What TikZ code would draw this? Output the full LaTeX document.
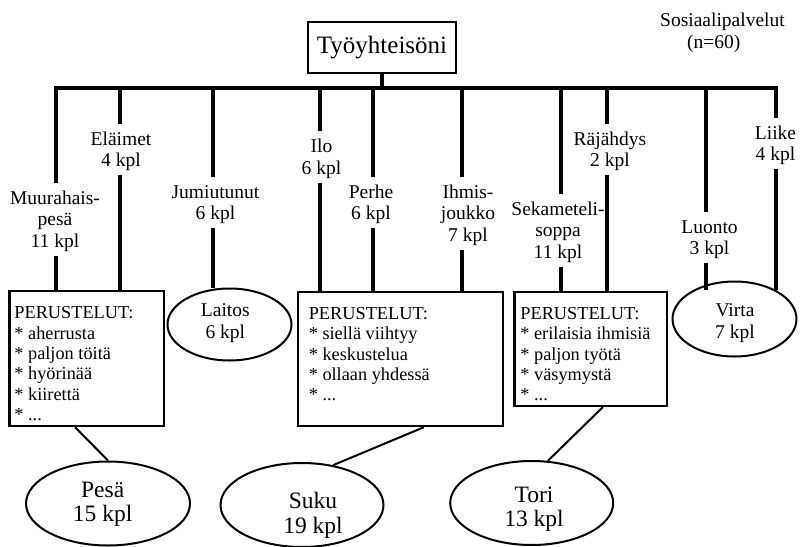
\documentclass[tikz,border=0pt]{standalone}
\usepackage{fontspec}
\setmainfont{Liberation Serif}
\usetikzlibrary{shapes.geometric}
% reasons box: width, height, left indent, lines
\newcommand\perusbox[4]{\parbox[c][#2][t]{#1}{\fontsize{18.3}{20.3}\selectfont\leftskip=#3\relax\rule{0pt}{27.8pt}#4}}
% first-line strut for the branch labels
\newcommand\lst{\rule{0pt}{17pt}}
% line break followed by a bullet asterisk
\newcommand\itm{\\{}* }
\begin{document}
\begin{tikzpicture}[x=1pt,y=-1pt,
  tree/.style={line width=4pt},
  conn/.style={line width=2pt},
  titlebox/.style={draw, line width=2.2pt, inner sep=0pt, minimum width=148pt, minimum height=51pt,
    font=\fontsize{25}{27}\selectfont},
  pbox/.style={draw, line width=2.2pt, inner sep=0pt, anchor=north west},
  ell/.style={ellipse, draw, line width=2pt, inner sep=0pt},
  lab/.style={align=center, inner xsep=1pt, inner ysep=4pt, font=\fontsize{19.5}{21.5}\selectfont},
  etext/.style={align=center, inner sep=0pt, font=\fontsize{19.5}{21.5}\selectfont},
  bigtext/.style={align=center, inner sep=0pt, font=\fontsize{23.5}{24.5}\selectfont}]
\useasboundingbox (0,0) rectangle (800,546);

% heading
\node[titlebox] (top) at (382,47.5) {Työyhteisöni};
\node[align=left, inner sep=0pt, anchor=north west, font=\fontsize{19.5}{22}\selectfont] (group) at (660,12.5)
  {Sosiaalipalvelut\\\hspace*{27pt}(n=60)};

% branch labels
\node[lab] (l1) at (55,219.5) {\lst Muurahais-\\pesä\\11 kpl};
\node[lab] (l2) at (121,149.75) {\lst Eläimet\\4 kpl};
\node[lab] (l3) at (215.5,202.75) {\lst Jumiutunut\\6 kpl};
\node[lab] (l4) at (321.5,157) {\lst Ilo\\6 kpl};
\node[lab] (l5) at (371,202.75) {\lst Perhe\\6 kpl};
\node[lab] (l6) at (468,213.5) {\lst Ihmis-\\joukko\\7 kpl};
\node[lab] (l7) at (558,230.5) {\lst Sekameteli-\\soppa\\11 kpl};
\node[lab] (l8) at (610,149.75) {\lst Räjähdys\\2 kpl};
\node[lab] (l9) at (709.5,237.75) {\lst Luonto\\3 kpl};
\node[lab] (l10) at (775.5,143.75) {\lst Liike\\4 kpl};

% reason boxes
\node[pbox] (box1) at (8.3,290)
  {\perusbox{154.4pt}{135pt}{5pt}{PERUSTELUT:\itm aherrusta\itm paljon töitä\itm hyörinää\itm kiirettä\itm ...}};
\node[pbox] (box2) at (296.7,290.7)
  {\perusbox{205.3pt}{134.3pt}{11pt}{PERUSTELUT:\itm siellä viihtyy\itm keskustelua\itm ollaan yhdessä\itm ...}};
\node[pbox] (box3) at (513.3,290.7)
  {\perusbox{152.7pt}{114.3pt}{6pt}{PERUSTELUT:\itm erilaisia ihmisiä\itm paljon työtä\itm väsymystä\itm ...}};

% small ellipses
\node[ell, minimum width=124pt, minimum height=72pt] (laitos) at (229.5,324.5) {};
\node[etext] (laitost) at (225.3,322.9) {Laitos\\6 kpl};
\node[ell, minimum width=124pt, minimum height=75pt] (virta) at (734.5,319) {};
\node[etext] (virtat) at (735,322.9) {Virta\\7 kpl};

% result ellipses
\node[ell, minimum width=164pt, minimum height=84pt] (pesa) at (108,503.5) {};
\node[bigtext] (pesat) at (102.7,504.3) {Pesä\\15 kpl};
\node[ell, minimum width=163pt, minimum height=84pt] (suku) at (302,505) {};
\node[bigtext] (sukut) at (313,515.5) {Suku\\19 kpl};
\node[ell, minimum width=163pt, minimum height=84pt] (tori) at (531.7,503) {};
\node[bigtext] (torit) at (534,509.2) {Tori\\13 kpl};

% tree
\coordinate (b1) at (56,87.5);
\coordinate (b2) at (119.5,87.5);
\coordinate (b3) at (213.3,87.5);
\coordinate (b4) at (320,87.5);
\coordinate (b5) at (372.7,87.5);
\coordinate (b6) at (461.7,87.5);
\coordinate (b7) at (560.7,87.5);
\coordinate (b8) at (607.3,87.5);
\coordinate (b9) at (706.3,87.5);
\coordinate (b10) at (776.3,87.5);
\coordinate (foot) at (0,290);

\draw[tree] (top.south) -- (top.south |- b1);
\draw[tree, line join=miter] (b1 |- l1.north) -- (b1) -- (b10) -- (b10 |- l10.north);
\foreach \i in {2,...,9} \draw[tree] (b\i) -- (b\i |- l\i.north);

\draw[tree] (b1 |- l1.south) -- (b1 |- box1.north);
\draw[tree] (b2 |- l2.south) -- (b2 |- box1.north);
\draw[tree] (b3 |- l3.south) -- (b3 |- laitos.north);
\draw[tree] (b4 |- l4.south) -- (b4 |- box2.north);
\draw[tree] (b5 |- l5.south) -- (b5 |- box2.north);
\draw[tree] (b6 |- l6.south) -- (b6 |- box2.north);
\draw[tree] (b7 |- l7.south) -- (b7 |- box3.north);
\draw[tree] (b8 |- l8.south) -- (b8 |- box3.north);
\draw[tree] (b9 |- l9.south) -- (b9 |- foot);
\draw[tree] (b10 |- l10.south) -- (b10 |- foot);

% boxes to results
\draw[conn] ([xshift=-11.5pt]box1.south) -- (pesa.north);
\draw[conn] ([xshift=23.4pt]box2.south) -- (suku.52);
\draw[conn] ([xshift=12pt]box3.south) -- (tori.69);
\end{tikzpicture}
\end{document}
